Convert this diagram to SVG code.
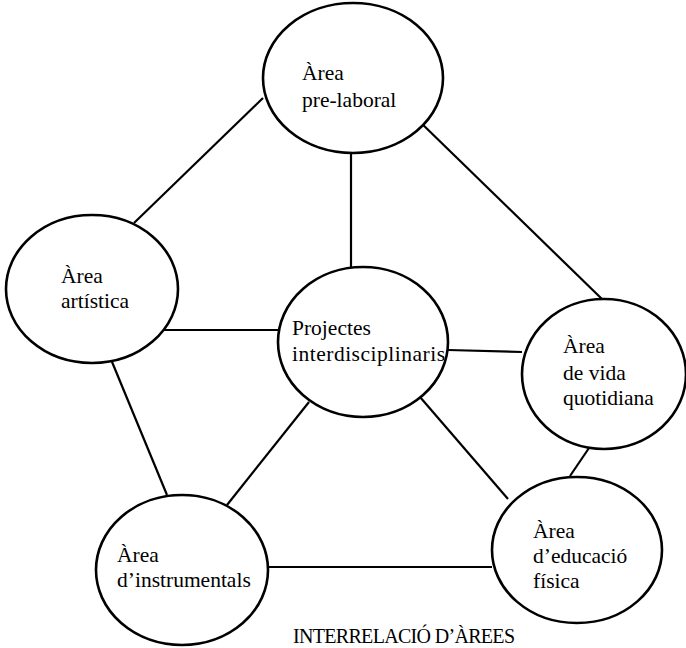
<svg xmlns="http://www.w3.org/2000/svg" width="686" height="648" viewBox="0 0 686 648">
<style>
.n{fill:#fff;stroke:#000;stroke-width:2.6}
.c line{stroke:#000;stroke-width:2.2}
text{font-family:"Liberation Serif","Times New Roman",serif;font-size:21.5px;fill:#000}
</style>
<rect width="686" height="648" fill="#fff"/>
<g class="c" id="connectors">
<line x1="263" y1="98" x2="134" y2="223"/>
<line x1="418" y1="120" x2="603" y2="300"/>
<line x1="351" y1="153" x2="351" y2="268"/>
<line x1="160" y1="330" x2="280" y2="330"/>
<line x1="448" y1="350" x2="522" y2="352"/>
<line x1="110" y1="357" x2="167" y2="495"/>
<line x1="309" y1="402" x2="227" y2="505"/>
<line x1="420" y1="397" x2="508" y2="499"/>
<line x1="589" y1="448" x2="570" y2="476"/>
<line x1="268" y1="567" x2="492" y2="567"/>
</g>
<g id="prelaboral">
<ellipse class="n" cx="353" cy="78" rx="90" ry="75"/>
<text x="302" y="80">Àrea</text>
<text x="302" y="107">pre-laboral</text>
</g>
<g id="artistica">
<ellipse class="n" cx="92" cy="289" rx="86" ry="74"/>
<text x="61" y="283">Àrea</text>
<text x="61" y="308">artística</text>
</g>
<g id="projectes">
<ellipse class="n" cx="363" cy="342" rx="85" ry="75"/>
<text x="292" y="335">Projectes</text>
<text x="292" y="361" textLength="153">interdisciplinaris</text>
</g>
<g id="vida">
<ellipse class="n" cx="604" cy="374" rx="82" ry="75"/>
<text x="563" y="353">Àrea</text>
<text x="563" y="380">de vida</text>
<text x="563" y="405">quotidiana</text>
</g>
<g id="instrumentals">
<ellipse class="n" cx="182" cy="570" rx="86" ry="75"/>
<text x="117" y="562">Àrea</text>
<text x="117" y="587">d’instrumentals</text>
</g>
<g id="educacio">
<ellipse class="n" cx="577" cy="550" rx="85" ry="73"/>
<text x="533" y="538">Àrea</text>
<text x="533" y="563">d’educació</text>
<text x="533" y="588">física</text>
</g>
<text x="293" y="643" style="font-size:20px" textLength="222">INTERRELACIÓ D’ÀREES</text>
</svg>
